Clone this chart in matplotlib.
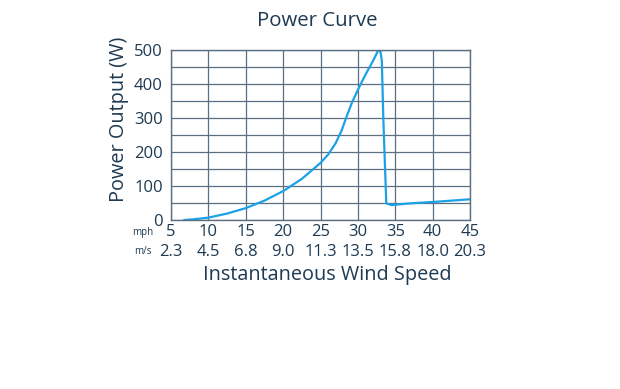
import matplotlib.pyplot as plt

plt.rcParams['font.family'] = ['Open Sans', 'DejaVu Sans']

mph_ticks = [5, 10, 15, 20, 25, 30, 35, 40, 45]
ms_labels = ['2.3', '4.5', '6.8', '9.0', '11.3', '13.5', '15.8', '18.0', '20.3']
power_ticks = [0, 100, 200, 300, 400, 500]

# power curve (mph, W)
wind_mph = [6.8, 8, 10, 12.5, 15, 17.5, 20, 22.5, 25, 26, 27, 27.8, 28.5,
            29.2, 30, 31, 32, 32.7, 33.0, 33.2, 33.4, 33.8, 34.5, 37, 40, 45]
power_w = [0, 2, 7, 19, 35, 57, 85, 121, 168, 192, 225, 262, 305,
           345, 383, 427, 467, 498, 497, 470, 300, 49, 44, 49, 53, 61]

text_col = '#1d3a52'
grid_col = '#5b6f82'
line_col = '#1ba1e6'

fig = plt.figure(figsize=(6.2, 3.89), dpi=100)
ax = fig.add_axes([0.2758, 0.4344, 0.4823, 0.437])

ax.plot(wind_mph, power_w, color=line_col, lw=1.6, solid_joinstyle='round')

ax.set_xlim(5, 45)
ax.set_ylim(0, 500)
ax.set_xticks(mph_ticks)
ax.set_yticks(range(0, 501, 50), minor=True)
ax.set_yticks(power_ticks)
ax.grid(True, which='both', color=grid_col, lw=0.9)
ax.tick_params(which='both', length=0, colors=text_col, labelsize=12)
ax.tick_params(axis='y', pad=6)
ax.tick_params(axis='x', pad=3)
for s in ax.spines.values():
    s.set_color(grid_col)
    s.set_linewidth(1.0)

trans = ax.get_xaxis_transform()
for x, lab in zip(mph_ticks, ms_labels):
    ax.text(x, -0.19, lab, transform=trans, ha='center', va='center',
            fontsize=12, color=text_col)

fig.text(143 / 620, 1 - 233 / 389, 'mph', ha='center', va='center',
         fontsize=7, color=text_col)
fig.text(143 / 620, 1 - 252 / 389, 'm/s', ha='center', va='center',
         fontsize=7, color=text_col)

fig.text(317 / 620, 1 - 21 / 389, 'Power Curve', ha='center', va='center',
         fontsize=14.7, color=text_col)
fig.text(327 / 620, 1 - 275 / 389, 'Instantaneous Wind Speed', ha='center',
         va='center', fontsize=14.3, color=text_col)
fig.text(119 / 620, 1 - 119 / 389, 'Power Output (W)', ha='center',
         va='center', rotation=90, fontsize=14.3, color=text_col)

fig.savefig('out.png', dpi=100, facecolor='white')
